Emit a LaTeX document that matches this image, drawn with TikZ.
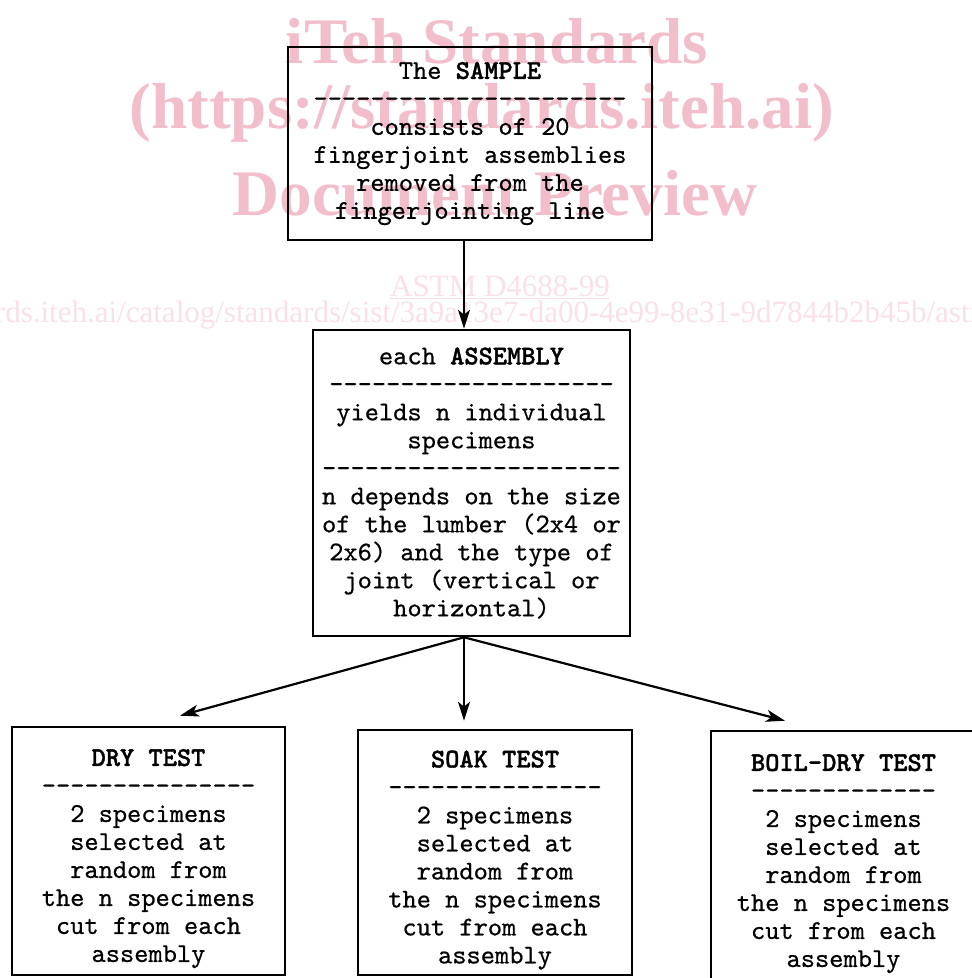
\documentclass[tikz,border=0pt]{standalone}
\usepackage{fontspec}
\newfontfamily\wmfont{Liberation Serif}
\newfontfamily\twfont{lmmono10-regular.otf}[FakeBold=0.6,
  BoldFont=lmmonolt10-bold.otf, BoldFeatures={FakeBold=1.2}]
\usetikzlibrary{arrows.meta}
\definecolor{wmpink}{RGB}{243,190,204}
\definecolor{wmlight}{RGB}{250,224,232}
\newcommand\dashrow[1]{\foreach \k in {1,...,#1}{\char"2013\kern0pt}}
\newcommand\toppad{\rule{0pt}{32pt}}
\tikzset{
  box/.style={draw=black, line width=2.6pt, align=center, inner sep=0pt,
    font=\twfont\fontsize{27.1}{28}\selectfont},
  arr/.style={line width=2.2pt, -{Stealth[length=19pt,width=12pt,inset=5pt]}},
  wmbig/.style={text=wmpink, font=\wmfont\bfseries\fontsize{65}{65}\selectfont,
    inner sep=0pt, anchor=base},
  wmsmall/.style={text=wmlight, font=\wmfont\fontsize{31}{31}\selectfont, inner sep=0pt}
}
\begin{document}
\begin{tikzpicture}[x=1pt,y=-1pt]
\useasboundingbox (0,0) rectangle (972,978);
\clip (0,0) rectangle (972,978);
% watermark
\node[wmbig] (wm1) at (497,63) {iTeh Standards};
\node[wmbig] (wm2) at (482,128) {(https://standards.iteh.ai)};
\node[wmbig] (wm3) at (495,215) {Document Preview};
\node[wmsmall, anchor=base] (wm4) at (500,296) {\underline{ASTM D4688-99}};
\node[wmsmall, anchor=base west] (wm5) at (-19,322) {ards.iteh.ai/catalog/standards/sist/3a9a13e7-da00-4e99-8e31-9d7844b2b45b/astm-d4688-99};
% boxes
\node[box, minimum width=364pt, minimum height=193pt] (sample) at (470,143.5)
  {The \textbf{SAMPLE}\\\dashrow{22}\\consists of 20\\fingerjoint assemblies\\removed from the\\fingerjointing line};
\node[box, minimum width=317pt, minimum height=306pt] (assembly) at (471.5,483)
  {each \textbf{ASSEMBLY}\\\dashrow{20}\\yields n individual\\specimens\\\dashrow{21}\\n depends on the size\\of the lumber (2x4 or\\2x6) and the type of\\joint (vertical or\\horizontal)};
\node[box, minimum width=273pt, minimum height=248pt] (dry) at (148.5,851)
  {\toppad\textbf{DRY TEST}\\\dashrow{15}\\2 specimens\\selected at\\random from\\the n specimens\\cut from each\\assembly};
\node[box, minimum width=274pt, minimum height=245pt] (soak) at (495,852.5)
  {\toppad\textbf{SOAK TEST}\\\dashrow{15}\\2 specimens\\selected at\\random from\\the n specimens\\cut from each\\assembly};
\node[box, minimum width=265pt, minimum height=250pt] (boil) at (843.5,856)
  {\toppad\textbf{BOIL-DRY TEST}\\\dashrow{13}\\2 specimens\\selected at\\random from\\the n specimens\\cut from each\\assembly};
% connectors
\coordinate (s1) at ([xshift=-6pt]sample.south);
\draw[arr] (s1) -- (s1 |- assembly.north);
\coordinate (a1) at ([xshift=-7.5pt]assembly.south);
\coordinate (tdry) at ([xshift=31.5pt,yshift=10pt]dry.north);
\coordinate (tsoak) at ([yshift=8pt]soak.north -| a1);
\coordinate (tboil) at ([xshift=-58.5pt,yshift=9pt]boil.north);
\draw[arr] (a1) -- (tdry);
\draw[arr] (a1) -- (tsoak);
\draw[arr] (a1) -- (tboil);
\end{tikzpicture}
\end{document}
